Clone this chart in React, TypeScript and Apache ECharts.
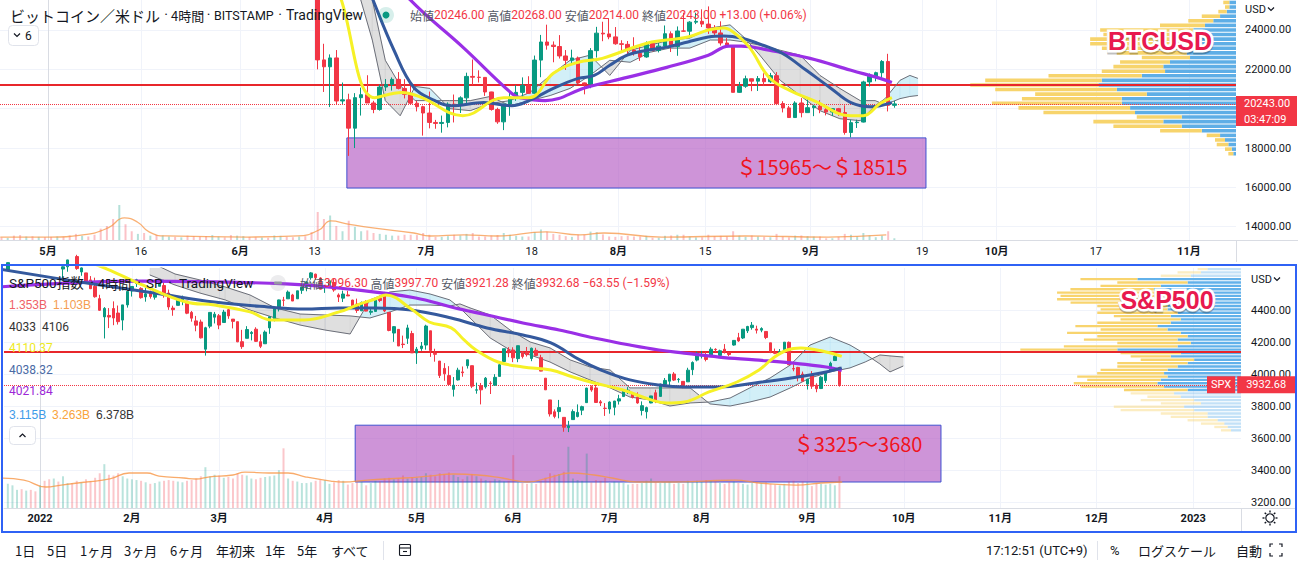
import React, { useEffect, useRef } from 'react';
import * as echarts from 'echarts';

// ---------------- BTCUSD (x = days since 2022-05-01) ----------------
const btcFirstDay = 42; // 2022-06-12
// [open, high, low, close] per day
const btcOHLC: number[][] = [
  [28400,28550,26560,26580],[26580,26880,22000,22480],[22480,23300,20850,22130],[22130,22760,20080,22580],
  [22580,22980,20230,20390],[20390,21330,20240,20450],[20450,20760,17600,19010],[19010,20790,18000,20560],
  [20560,21070,19650,20710],[20710,21700,20350,20290],[20290,20400,19770,19960],[19960,21220,19900,21100],
  [21100,21510,20900,21230],[21230,21590,20920,21490],[21490,21860,20980,21030],[21030,21500,20520,20730],
  [20730,21180,20190,20280],[20280,20400,19860,20100],[20100,20150,18630,19780],
  [19780,20870,19000,19300],[19300,19430,18980,19250],[19250,19650,18780,19300],[19300,20320,19050,20230],
  [20230,20720,19300,20180],[20180,20630,19780,20550],[20550,21830,20260,21640],[21640,22500,21200,21600],
  [21600,21950,21330,21590],[21590,21600,20650,20850],[20850,20860,19900,19960],[19960,20050,19230,19330],
  [19330,20250,18910,20230],[20230,20870,19640,20590],[20590,21200,20400,20830],[20830,21590,20520,21190],
  [21190,21650,20780,20780],[20780,22700,20760,22470],[22470,23750,21600,23390],[23390,24270,23000,23230],
  [23230,23420,22360,23160],[23160,23740,22550,22680],[22680,22980,21970,22460],[22460,23000,22320,22580],
  [22580,22650,21260,21310],[21310,21330,20730,21250],[21250,23080,21040,22950],[22950,24160,22600,23840],
  [23840,24420,23430,23800],[23800,24600,23530,23650],[23650,24150,23250,23300],
  [23300,23480,22880,23270],[23270,23440,22670,22980],[22980,23630,22700,22820],[22820,23200,22430,22630],
  [22630,23420,22590,23310],[23310,23340,22910,22960],[22960,23340,22860,23180],[23180,24230,23150,23810],
  [23810,23930,22880,23160],[23160,24180,22690,23950],[23950,24880,23900,23940],[23940,24450,23640,24400],
  [24400,24880,24300,24440],[24440,25050,24150,24300],[24300,25200,23800,24100],[24100,24250,23700,23850],
  [23850,24440,23210,23340],[23340,23590,23140,23190],[23190,23200,20830,20830],[20830,21360,20800,21140],
  [21140,21680,21060,21520],[21520,21530,20890,21400],[21400,21660,20900,21530],[21530,21800,21150,21370],
  [21370,21820,21310,21680],[21680,21860,20180,20260],[20260,20380,19810,20040],[20040,20140,19540,19550],
  [19550,20380,19550,20290],[20290,20540,19560,19800],[19800,20470,19800,20050],
  [20050,20200,19620,20130],[20130,20430,19770,19950],[19950,20050,19660,19830],[19830,20020,19630,20000],
  [20000,20040,19640,19800],[19800,20170,18680,18790],[18790,19440,18540,19290],[19290,19440,19020,19320],
  [19320,21420,19300,21360],[21360,21790,21130,21650],[21650,21880,21390,21830],[21830,22470,21560,22400],
  [22400,22790,19860,20170],[20170,20400,20050,20243],
];
const btcVolFirstDay = -8;
const btcVolume = [
  1.5,1.2,2.5,2.8,2.0,2.2,1.8,1.6,
  1.8,2.0,1.9,2.6,3.5,2.4,2.0,3.0,6.5,
  8.0,12.0,20.0,9.0,5.0,3.5,4.0,
  2.5,2.8,2.6,2.0,1.8,1.5,2.5,
  2.2,2.0,2.3,2.8,2.0,1.5,2.8,2.5,
  2.2,1.8,1.6,1.4,1.3,2.6,2.4,1.9,1.6,2.0,2.2,
  4.5,16.0,12.0,14.0,8.0,5.0,11.0,
  7.5,5.0,5.5,4.0,3.5,3.0,2.5,
  2.5,3.0,3.0,2.8,4.0,3.0,
  1.8,1.8,2.2,3.0,2.6,3.5,4.0,
  2.0,2.0,2.6,2.8,4.0,3.0,2.4,
  2.0,2.0,4.5,6.0,4.8,3.5,3.0,
  2.2,1.8,3.0,3.0,4.8,4.5,3.2,2.0,1.8,
  2.2,2.4,2.0,2.0,2.4,1.3,1.3,
  2.4,2.6,3.0,3.0,2.0,1.5,1.6,
  3.0,2.2,2.4,2.0,5.0,2.5,1.8,
  2.6,2.0,1.8,1.6,3.5,2.0,1.5,2.5,2.6,2.2,
  2.0,2.0,1.0,1.0,1.8,3.5,3.0,
  2.0,4.0,2.6,1.6,2.5,5.0,1.0,
];
const btcEarlyDir = 'duddudud' + 'duddduddd' + 'dduddud' + 'uduudud' + 'ddduuddu' + 'udduduuddud';
const btcVolMA = [[-7.7,1.7],[0.3,1.7],[5.6,2.9],[9.7,6.9],[12.3,12.6],[14.4,10.3],[16.3,4.6],[19,2.3],[32.3,1.7],[40.3,2.3],[43.7,5.7],[45.6,10.9],[48.4,9.1],[52.4,6.9],[59,4],[61.6,2.3],[67.1,2.9],[72.4,2.3],[80.3,4.6],[85.8,2.9],[89.7,4],[99,1.7],[112.4,2.3],[125.8,1.7],[135.2,2.9]];
const btcMaYellow = [[46,27000],[47.3,25540],[52.7,20560],[57.1,20820],[60.3,20560],[66.9,19640],[73.5,20560],[77.6,20560],[81.5,21800],[85.5,22360],[89.4,22560],[96.6,23330],[103.2,23640],[106.5,24000],[109,24100],[110.5,23900],[113.1,23130],[116.3,21590],[119.7,20920],[123.5,20410],[129.5,19640],[131.5,19640],[134.2,20260],[136.1,20560]];
const btcMaBlue = [[50,27500],[52.4,25540],[55.8,22970],[59,21080],[62.4,20410],[65,20150],[70.3,20310],[74.8,20150],[77.6,20410],[81.5,21030],[85.5,21540],[88.1,21690],[90.6,22210],[93.4,22720],[96.6,22970],[99.8,23130],[103.2,23390],[106.5,23640],[109,23690],[111.8,23590],[114.4,23330],[118.4,22820],[122.3,21950],[126.3,21030],[129.5,20310],[132.7,20100],[136.1,20310]];
const btcMaPurple = [[55,27000],[58.4,25540],[66.9,23130],[74.8,20770],[76.1,20560],[80.2,20410],[86.8,21080],[93.4,21590],[99.8,22100],[106.5,22720],[109.8,23180],[111.8,23180],[116.3,22970],[122.9,22560],[129.5,21950],[134.2,21540],[136.1,21330]];
const btcCloudX = [49.5,52.3,54.4,56.8,59.2,61.6,64.8,68.1,71.3,74.5,77.7,81.0,84.2,87.4,90.6,93.9,97.1,100.3,103.5,106.8,110.0,112.4,114.8,118.1,121.3,124.5,127.7,131.0,133.4,135.0,137.4,139.0,140.3];
const btcSpanA = [26560,23490,20410,19640,21130,21030,20000,19900,20260,20410,20820,21690,22460,22720,21690,22970,23230,23490,23590,24100,24260,23590,22720,21440,20670,19900,19490,19390,20150,20510,21440,21690,21540];
const btcSpanB = [28620,25540,22460,21180,20410,20410,20410,20410,20620,20150,20410,20670,21030,21690,22460,22360,22870,23080,23080,23490,23490,23390,23230,22970,22720,21690,21030,20410,20410,20200,20510,20620,20670];
const btcProfPrice = [25400,25167,24934,24701,24468,24235,24002,23769,23536,23303,23070,22837,22604,22371,22138,21905,21672,21439,21206,20973,20740,20507,20274,20041,19808,19575,19342,19109,18876,18643,18410,18177,17944,17711];
const btcProfUp = [0.54,0.54,0.75,1.29,1.84,2.51,3.45,3.45,3.45,3.72,3.45,3.99,3.72,5.34,5.88,5.74,7.62,10.86,11.13,9.64,7.22,9.24,9.24,8.57,8.17,4.39,5.88,4.39,2.77,1.29,0.89,0.62,0.35,0.22];
const btcProfDown = [0.49,0.35,0.68,1.48,2.02,3.64,7.54,7.28,8.35,8.08,7.40,5.66,3.90,4.04,4.04,5.12,7.55,9.43,10.37,9.84,9.03,8.08,10.51,9.03,7.41,3.64,5.66,5.53,3.37,1.08,0.81,0.94,0.54,0.40];
const btcProfBin = 233;
const btcLevel = 21200;
const btcLast = 20243;
const btcCountdown = '03:47:09';
const btcZone = { from: 48.2, to: 141.6, low: 15965, high: 18515 };
const btcTickDays = [0, 15, 31, 43, 61, 78, 92, 106, 123, 141, 153, 169, 184];
const btcTickLabels = ['5月', '16', '6月', '13', '7月', '18', '8月', '15', '9月', '19', '10月', '17', '11月'];
const btcGridTicks = [14000, 16000, 18000, 20000, 22000, 24000];
// 20000.00 is hidden behind the last-price tag in the reference
const btcPriceLabels = [14000, 16000, 18000, 22000, 24000];

// ---------------- S&P500 (x = trading-day index, 2022-01-03 = 0) ----------------
const spFirstIdx = -7; // 2021-12-22
const spOHLC: number[][] = [
  [4650,4697,4645,4696],[4703,4740,4703,4725],[4733,4791,4733,4791],[4795,4807,4780,4786],[4788,4805,4778,4793],[4795,4808,4775,4778],[4776,4787,4765,4766],
  [4778,4797,4758,4797],[4804,4819,4774,4794],[4788,4798,4699,4701],[4693,4725,4671,4696],[4698,4707,4663,4677],[4656,4673,4582,4670],[4670,4714,4639,4713],
  [4728,4749,4703,4726],[4734,4745,4651,4659],[4638,4666,4614,4663],[4632,4632,4568,4577],[4588,4612,4531,4533],[4548,4602,4477,4483],[4471,4495,4395,4398],
  [4357,4418,4222,4410],[4366,4412,4287,4356],[4409,4454,4305,4350],[4381,4428,4309,4327],[4337,4432,4273,4432],[4432,4516,4415,4516],
  [4519,4550,4484,4547],[4566,4595,4544,4589],[4535,4542,4471,4477],[4482,4540,4452,4501],[4505,4521,4471,4484],[4480,4531,4465,4522],[4548,4590,4548,4587],
  [4553,4589,4477,4504],[4506,4527,4401,4419],[4412,4427,4364,4402],[4429,4472,4429,4471],[4456,4490,4430,4475],[4456,4456,4374,4380],[4385,4394,4327,4349],
  [4332,4363,4267,4305],[4325,4340,4222,4226],[4155,4295,4115,4289],[4299,4385,4286,4385],[4355,4388,4316,4374],
  [4364,4375,4280,4306],[4322,4401,4322,4387],[4402,4416,4345,4363],[4343,4343,4285,4329],[4327,4327,4199,4201],[4202,4276,4157,4171],[4223,4299,4223,4278],
  [4253,4268,4210,4260],[4280,4292,4200,4204],[4202,4247,4162,4173],[4189,4272,4188,4262],[4288,4358,4251,4358],[4345,4412,4329,4412],[4407,4465,4391,4463],
  [4462,4482,4424,4461],[4470,4522,4470,4512],[4494,4501,4456,4456],[4470,4520,4469,4520],[4523,4546,4501,4543],[4541,4576,4517,4576],[4602,4637,4589,4632],
  [4624,4627,4588,4602],[4600,4604,4530,4530],
  [4540,4548,4507,4546],[4547,4583,4539,4583],[4572,4593,4514,4525],[4494,4504,4450,4481],[4474,4521,4450,4500],[4494,4520,4487,4488],[4462,4464,4408,4413],
  [4437,4471,4382,4397],[4395,4453,4393,4447],[4449,4461,4392,4393],[4386,4411,4370,4392],[4391,4471,4390,4462],[4473,4489,4449,4459],[4490,4513,4386,4394],
  [4385,4386,4267,4272],[4256,4300,4201,4296],[4279,4280,4175,4175],[4187,4240,4162,4184],[4223,4308,4188,4288],[4253,4270,4132,4132],
  [4131,4169,4063,4155],[4159,4200,4145,4175],[4181,4308,4152,4300],[4270,4270,4107,4147],[4129,4158,4077,4123],[4081,4081,3975,3991],[4035,4068,3958,4001],
  [3990,4049,3928,3935],[3904,3981,3859,3930],[3963,4039,3959,4024],[4013,4047,3983,4008],[4052,4089,4034,4089],[4052,4052,3912,3924],[3899,3946,3877,3901],
  [3927,3944,3810,3901],[3920,3981,3909,3974],[3942,3955,3875,3941],[3930,3999,3925,3979],[3985,4075,3984,4058],[4078,4158,4078,4158],[4152,4168,4105,4132],
  [4150,4167,4074,4101],[4096,4177,4074,4177],[4138,4143,4097,4109],[4135,4169,4109,4121],[4097,4165,4080,4161],[4148,4164,4111,4116],[4102,4120,4017,4018],
  [3974,3974,3900,3901],[3838,3838,3734,3750],[3764,3779,3723,3735],[3765,3838,3723,3790],[3729,3729,3639,3667],[3665,3707,3637,3675],[3715,3779,3715,3765],
  [3734,3810,3729,3760],[3774,3802,3743,3796],[3821,3914,3821,3912],[3921,3928,3889,3900],[3913,3946,3820,3822],[3826,3837,3800,3819],[3786,3818,3738,3785],
  [3781,3829,3752,3825],[3792,3832,3742,3831],[3831,3870,3809,3845],[3859,3906,3859,3903],[3889,3918,3875,3899],[3880,3880,3847,3854],[3855,3885,3814,3819],
  [3772,3829,3741,3802],[3764,3796,3722,3790],[3819,3863,3817,3863],[3883,3902,3818,3831],[3860,3939,3860,3937],[3935,3975,3924,3960],[3955,3999,3927,3999],
  [4000,4012,3956,3962],[3965,3975,3946,3967],[3954,3954,3911,3921],[3951,4039,3951,4024],[4027,4079,3993,4072],[4087,4140,4079,4130],
  [4112,4144,4097,4119],[4105,4140,4079,4091],[4108,4167,4108,4155],[4154,4161,4136,4152],[4116,4152,4107,4145],[4155,4187,4128,4140],[4133,4137,4112,4122],
  [4181,4211,4177,4210],[4227,4257,4201,4207],[4225,4280,4219,4280],[4270,4301,4256,4297],[4290,4325,4277,4305],[4281,4302,4253,4274],[4274,4292,4261,4284],
  [4266,4266,4218,4228],[4195,4195,4130,4138],[4134,4159,4124,4129],[4127,4156,4120,4141],[4153,4200,4147,4199],[4198,4203,4057,4058],[4034,4062,4017,4031],
  [4041,4045,3954,3986],[4000,4015,3954,3955],
  [3937,3970,3903,3967],[3994,4018,3907,3924],[3930,3942,3886,3908],[3909,3987,3906,3980],[3959,4010,3944,4006],[4022,4077,4022,4067],[4084,4120,4084,4110],
  [4041,4045,3921,3933],
];
const spVolume = [
  3.2,3.0,2.4,2.5,2.3,2.4,2.2,
  3.0,3.6,3.8,3.9,3.5,4.2,3.3,3.3,3.6,3.4,3.8,3.6,4.0,4.6,5.8,4.4,4.3,4.6,4.2,3.9,
  3.8,3.7,3.6,3.4,3.2,3.3,3.5,3.6,3.7,3.6,3.5,3.4,3.6,3.7,3.9,4.2,5.4,4.2,4.4,
  4.3,4.0,4.1,3.9,4.6,4.4,4.3,3.9,3.8,4.0,4.1,4.2,4.3,5.0,7.9,3.9,3.6,3.5,3.3,3.3,3.4,3.6,3.7,
  3.7,3.2,3.4,3.7,3.6,3.1,3.3,3.4,3.5,3.0,3.3,3.6,3.5,3.9,4.0,3.8,3.9,4.3,3.9,4.1,
  4.0,4.1,4.6,4.4,4.2,4.6,4.5,4.7,4.4,4.1,3.8,4.2,4.5,4.2,3.9,3.7,3.6,3.8,3.7,3.5,3.6,
  7.0,3.4,3.3,3.2,3.3,3.2,3.6,4.0,4.6,4.4,4.5,4.8,8.1,3.9,3.7,3.6,7.2,3.4,3.7,3.6,4.0,
  3.3,3.5,3.4,3.3,3.1,3.2,3.2,3.3,3.6,3.9,3.4,3.3,3.4,3.5,3.2,3.3,3.2,3.6,3.4,3.6,
  3.5,3.7,3.6,3.5,3.3,3.2,3.4,3.5,3.3,3.2,3.1,3.3,3.4,3.3,3.4,3.2,3.1,3.0,3.2,3.5,3.6,3.3,3.5,
  3.4,2.9,3.3,3.2,3.1,3.2,3.0,4.2,
];
const spVolMA = [[-8.7,3.97],[-3.5,3.7],[1.3,2.78],[4.6,3.04],[10,3.44],[15.2,3.84],[19.4,4.63],[23.3,4.63],[25.9,4.23],[31.3,3.97],[34,3.84],[36.6,4.1],[42,4.37],[44.6,4.76],[49.8,4.63],[54,4.63],[57.9,4.1],[63.3,3.57],[66,3.44],[71.2,3.7],[79.2,3.97],[84.7,4.23],[89.9,4.5],[95.3,4.37],[100.6,3.97],[106,3.44],[111.2,4.1],[115.4,4.63],[120.6,4.37],[124.5,3.97],[130,3.44],[138,3.44],[144.5,3.57],[151.3,3.7],[156.5,3.31],[164.6,3.04],[170,3.31],[174.6,3.44]];
const spMaYellow = [[5,4760],[14.6,4656],[22,4560],[31.8,4450],[37.9,4431],[45.7,4388],[50.3,4338],[57.5,4338],[65.1,4388],[69,4431],[72.9,4469],[75.3,4494],[80.8,4406],[84.7,4325],[89.5,4288],[92.3,4213],[94.9,4150],[99.7,4075],[105.1,4044],[111.2,4025],[116,3981],[120.6,3944],[126.9,3900],[133,3838],[136.3,3819],[140.2,3825],[145.6,3888],[151.7,3950],[156.5,4025],[159.6,4100],[162.6,4150],[165.6,4163],[171.1,4138],[174.5,4110]];
const spMaBlue = [[-9,4656],[8.7,4575],[26.3,4500],[37.9,4450],[49.6,4419],[57.5,4406],[65.1,4413],[72.9,4413],[80.8,4400],[89.5,4350],[97.3,4288],[105.1,4244],[111.2,4194],[117.5,4088],[122.1,4025],[128.4,3963],[134.7,3931],[140.2,3919],[147.8,3919],[155.6,3944],[163.5,3975],[171.1,4013],[174.5,4038]];
const spMaPurple = [[-9,4544],[22.4,4581],[53.5,4563],[69,4525],[81.8,4475],[89.5,4419],[97.3,4369],[105.1,4319],[113,4275],[120.6,4225],[128.4,4181],[134.7,4150],[140.2,4131],[147.8,4106],[155.6,4088],[163.5,4069],[171.1,4044],[174.5,4022]];
const spCloudX = [23.9,29.4,34.8,40.3,45.7,51.2,56.6,62.0,67.5,71.8,76.2,80.5,84.9,89.2,91.4,93.6,98.0,102.3,106.7,111.0,115.4,119.7,124.1,128.4,132.8,137.1,141.5,145.8,150.2,154.5,158.9,163.3,167.6,172.0,176.3,179.6,182.8,185.0,187.9];
const spSpanA = [4619,4556,4506,4463,4400,4350,4306,4275,4250,4463,4513,4525,4500,4463,4413,4350,4225,4150,4119,4075,4013,3963,3913,3856,3838,3800,3819,3825,3850,3913,3975,4056,4181,4231,4181,4125,4063,4013,4050];
const spSpanB = [4700,4625,4588,4544,4494,4413,4375,4369,4363,4350,4388,4431,4431,4425,4438,4413,4369,4275,4200,4163,4088,4044,4025,3913,3913,3913,3913,3813,3800,3825,3856,3913,3975,4013,4038,4075,4119,4113,4106];
const spProfPrice = [4656,4635,4614,4593,4572,4551,4530,4509,4488,4467,4446,4425,4404,4383,4362,4341,4320,4299,4278,4257,4236,4215,4194,4173,4152,4131,4110,4089,4068,4047,4026,4005,3984,3963,3942,3921,3900,3879,3858,3837,3816,3795,3774,3753,3732,3711,3690,3669,3648];
const spProfUp = [2.70,3.24,4.06,8.38,4.32,6.49,7.03,6.22,5.94,6.22,5.94,5.94,5.94,5.13,5.68,4.87,5.68,6.76,5.94,4.87,4.32,5.13,4.06,5.13,10.0,4.87,5.68,3.79,4.32,5.13,5.94,6.22,5.94,6.49,6.76,6.22,4.32,5.41,4.87,3.79,3.24,4.60,3.79,2.70,2.70,1.89,1.35,1.08,0.81];
const spProfDown = [0.81,1.89,2.43,4.60,5.68,4.87,6.76,8.65,8.65,8.65,7.84,5.68,5.41,6.49,4.60,4.87,5.94,6.63,5.41,9.19,7.30,7.57,5.94,9.19,7.84,4.87,3.24,4.32,5.68,4.87,5.41,5.41,7.30,5.94,6.76,6.76,5.14,3.51,2.70,4.32,3.24,5.68,5.94,3.79,2.98,2.43,1.89,1.08,0.81];
const spProfBin = 21;
const spValueArea = [3890, 4600];
const spLevel = 4140;
const spLast = 3932.68;
const spZone = { from: 68.6, to: 196.1, low: 3325, high: 3680 };
const spTickDays = [0, 20, 39, 62, 82, 103, 124, 144, 167, 188, 209, 230, 251];
const spTickLabels = ['2022', '2月', '3月', '4月', '5月', '6月', '7月', '8月', '9月', '10月', '11月', '12月', '2023'];
const spPriceTicks = [3200, 3400, 3600, 3800, 4000, 4200, 4400];

// ---------------- styling ----------------
const FONT = "Roboto, 'Noto Sans CJK JP', 'Noto Sans', sans-serif";
const CJK = "'Noto Sans CJK JP', Roboto, sans-serif";
const TEXT = '#131722';
const UP = '#089981';
const DOWN = '#f23645';
const GRID_LINE = '#f0f3fa';
const AXIS_LINE = '#d9dce3';

function tickFormatter(ticks: number[], labels: string[]) {
  return (v: number) => {
    for (let k = 0; k < ticks.length; k++) {
      if (Math.abs(ticks[k] - v) < 0.01) {
        const s = labels[k];
        return /月$|^20\d\d$/.test(s) ? '{b|' + s + '}' : s;
      }
    }
    return '';
  };
}

function cloudSeries(idx: number, xs: number[], a: number[], b: number[]) {
  const data: number[][] = [];
  for (let k = 0; k < xs.length - 1; k++) data.push([xs[k], a[k], b[k], xs[k + 1], a[k + 1], b[k + 1]]);
  const upFill = 'rgba(156,220,240,0.45)';
  const dnFill = 'rgba(150,150,150,0.30)';
  return {
    type: 'custom', xAxisIndex: idx, yAxisIndex: idx, clip: true, silent: true, z: 4,
    data, encode: { x: [0, 3], y: [1, 2, 4, 5] },
    renderItem: (params: any, api: any) => {
      const x0 = api.value(0), a0 = api.value(1), b0 = api.value(2);
      const x1 = api.value(3), a1 = api.value(4), b1 = api.value(5);
      const d0 = a0 - b0, d1 = a1 - b1;
      const c = (x: number, y: number) => api.coord([x, y]);
      if (d0 * d1 < 0) {
        const t = d0 / (d0 - d1);
        const xc = x0 + t * (x1 - x0), yc = a0 + t * (a1 - a0);
        return {
          type: 'group', children: [
            { type: 'polygon', shape: { points: [c(x0, a0), c(xc, yc), c(x0, b0)] }, style: { fill: d0 > 0 ? upFill : dnFill } },
            { type: 'polygon', shape: { points: [c(xc, yc), c(x1, a1), c(x1, b1)] }, style: { fill: d1 > 0 ? upFill : dnFill } },
          ],
        };
      }
      const f = d0 + d1 >= 0 ? upFill : dnFill;
      return { type: 'polygon', shape: { points: [c(x0, a0), c(x1, a1), c(x1, b1), c(x0, b0)] }, style: { fill: f, stroke: f, lineWidth: 0.3 } };
    },
  };
}

function profileSeries(idx: number, prices: number[], up: number[], dn: number[], bin: number, dark: (p: number) => boolean, colors: string[]) {
  return {
    type: 'custom', xAxisIndex: idx, yAxisIndex: idx, clip: true, silent: true, z: 1,
    data: prices.map((p, k) => [p, up[k], dn[k]]),
    encode: { x: [1, 2], y: 0 },
    renderItem: (params: any, api: any) => {
      const p = api.value(0), u = api.value(1), d = api.value(2);
      const h = Math.abs(api.size([0, bin])[1]);
      const r = api.coord([0, p]), mu = api.coord([u, p]), md = api.coord([u + d, p]);
      const y = r[1] - h / 2 + 0.5;
      const hh = Math.max(h - 1, 1);
      const isDark = dark(p);
      return {
        type: 'group', children: [
          { type: 'rect', shape: { x: mu[0], y, width: r[0] - mu[0], height: hh }, style: { fill: isDark ? colors[0] : colors[2] } },
          { type: 'rect', shape: { x: md[0], y, width: mu[0] - md[0], height: hh }, style: { fill: isDark ? colors[1] : colors[3] } },
        ],
      };
    },
  };
}

function lineSeries(idx: number, data: number[][], color: string, width: number, z = 9, smooth: number | boolean = 0.4) {
  return { type: 'line', xAxisIndex: idx, yAxisIndex: idx, data, symbol: 'none', smooth, silent: true, z, lineStyle: { color, width }, clip: true };
}

function T(x: number, y: number, text: string, o: any = {}) {
  return {
    type: 'text', x, y, silent: true, z: 100,
    style: {
      text, fill: o.fill || TEXT, fontSize: o.size || 12, fontFamily: o.family || FONT,
      fontWeight: o.weight || 'normal', textAlign: o.align || 'left', textVerticalAlign: 'middle',
      ...(o.extra || {}),
    },
  };
}

function chevron(x: number, y: number, upward = false) {
  const pts = upward ? [[x - 3, y + 1.5], [x, y - 1.5], [x + 3, y + 1.5]] : [[x - 3, y - 1.5], [x, y + 1.5], [x + 3, y - 1.5]];
  return { type: 'polyline', silent: true, z: 100, shape: { points: pts }, style: { stroke: TEXT, lineWidth: 1.2, fill: 'none' } };
}

function bigLabel(x: number, y: number, text: string) {
  const base = { fontSize: 25, fontWeight: 'bold', fontFamily: "'Liberation Sans', Arial, sans-serif", textAlign: 'center', textVerticalAlign: 'middle', text };
  return [
    { type: 'text', x, y: y + 1.5, silent: true, z: 101, style: { ...base, fill: 'rgba(0,0,0,0.25)', stroke: 'rgba(0,0,0,0.25)', lineWidth: 5 } },
    { type: 'text', x, y, silent: true, z: 102, style: { ...base, fill: '#ffffff', stroke: '#ffffff', lineWidth: 5 } },
    { type: 'text', x, y, silent: true, z: 103, style: { ...base, fill: '#e8194f' } },
  ];
}

function buildOption(): any {
  const btcCandles = btcOHLC.map((r, k) => [btcFirstDay + k + 0.5, r[0], r[3], r[2], r[1]]);
  const btcVolBars = btcVolume.map((v, k) => {
    const day = btcVolFirstDay + k;
    const ci = day - btcFirstDay;
    const up = ci >= 0 ? btcOHLC[ci][3] >= btcOHLC[ci][0] : btcEarlyDir[k] === 'u';
    return { value: [day + 0.5, v], itemStyle: { color: up ? 'rgba(8,153,129,0.30)' : 'rgba(242,54,69,0.30)' } };
  });
  const spCandles = spOHLC.map((r, k) => [spFirstIdx + k, r[0], r[3], r[2], r[1]]);
  const spVolBars = spVolume.map((v, k) => {
    const r = spOHLC[k];
    return { value: [spFirstIdx + k, v], itemStyle: { color: r[3] >= r[0] ? 'rgba(8,153,129,0.28)' : 'rgba(242,54,69,0.28)' } };
  });

  const xBase = (min: number, max: number, grid: number) => ({ type: 'value', gridIndex: grid, min, max, show: false, splitLine: { show: false } });
  const yHidden = (min: number, max: number, grid: number) => ({ type: 'value', gridIndex: grid, min, max, show: false, splitLine: { show: false } });

  const candleStyle = { color: UP, color0: DOWN, borderColor: UP, borderColor0: DOWN, borderWidth: 1 };

  const zoneSeries = (idx: number, zone: any, text: string, offsetY: number) => ({
    type: 'line', xAxisIndex: idx, yAxisIndex: idx, data: [], z: 3, silent: true,
    markArea: {
      silent: true,
      itemStyle: { color: 'rgba(181,92,196,0.66)', borderColor: '#3f51d0', borderWidth: 1 },
      label: { show: true, position: 'insideRight', distance: 19, offset: [0, offsetY], color: '#f0141e', fontSize: 20, fontFamily: CJK, formatter: text },
      data: [[{ xAxis: zone.from, yAxis: zone.high }, { xAxis: zone.to, yAxis: zone.low }]],
    },
  });

  const series: any[] = [
    // ---- BTC ----
    profileSeries(2, btcProfPrice, btcProfUp, btcProfDown, btcProfBin, () => true, ['#5eaee6', '#f7d46c', '#5eaee6', '#f7d46c']),
    { type: 'bar', xAxisIndex: 1, yAxisIndex: 1, data: btcVolBars, barWidth: 2, silent: true, z: 1 },
    lineSeries(1, btcVolMA, 'rgba(247,150,70,0.75)', 1.3, 2, 0.5),
    zoneSeries(0, btcZone, '＄15965～＄18515', 4),
    cloudSeries(0, btcCloudX, btcSpanA, btcSpanB),
    lineSeries(0, btcCloudX.map((x, k) => [x, btcSpanA[k]]), '#6b6e78', 1, 5, false),
    lineSeries(0, btcCloudX.map((x, k) => [x, btcSpanB[k]]), '#6b6e78', 1, 5, false),
    {
      type: 'candlestick', xAxisIndex: 0, yAxisIndex: 0, data: btcCandles, encode: { x: 0, y: [1, 2, 3, 4] },
      barWidth: 4, itemStyle: candleStyle, z: 7, silent: true,
      markLine: {
        silent: true, symbol: 'none', animation: false,
        data: [
          { yAxis: btcLevel, lineStyle: { color: '#e8262b', width: 2, type: 'solid' }, label: { show: false } },
          {
            yAxis: btcLast, lineStyle: { color: DOWN, width: 1, type: 'dotted' },
            label: {
              show: true, position: 'end', distance: 0,
              formatter: (p: any) => Number(p.value).toFixed(2),
              backgroundColor: DOWN, color: '#fff', fontSize: 11, padding: [3, 8, 2, 8], width: 45, fontFamily: FONT,
            },
          },
        ],
      },
    },
    lineSeries(0, btcMaPurple, '#9a2fe6', 3.2),
    lineSeries(0, btcMaBlue, '#34599d', 3),
    lineSeries(0, btcMaYellow, '#f6f126', 3),

    // ---- S&P ----
    profileSeries(5, spProfPrice, spProfUp, spProfDown, spProfBin, (p) => p >= spValueArea[0] && p <= spValueArea[1],
      ['#62b1ea', '#f8d46e', 'rgba(98,177,234,0.38)', 'rgba(248,212,110,0.42)']),
    { type: 'bar', xAxisIndex: 4, yAxisIndex: 4, data: spVolBars, barWidth: 2, silent: true, z: 1 },
    lineSeries(4, spVolMA, 'rgba(247,150,70,0.8)', 1.3, 2, 0.5),
    zoneSeries(3, spZone, '＄3325～3680', -10),
    cloudSeries(3, spCloudX, spSpanA, spSpanB),
    lineSeries(3, spCloudX.map((x, k) => [x, spSpanA[k]]), '#6b6e78', 1, 5, false),
    lineSeries(3, spCloudX.map((x, k) => [x, spSpanB[k]]), '#6b6e78', 1, 5, false),
    {
      type: 'candlestick', xAxisIndex: 3, yAxisIndex: 3, data: spCandles, encode: { x: 0, y: [1, 2, 3, 4] },
      barWidth: 3, itemStyle: candleStyle, z: 7, silent: true,
      markLine: {
        silent: true, symbol: 'none', animation: false,
        data: [
          { yAxis: spLevel, lineStyle: { color: '#e8262b', width: 2, type: 'solid' }, label: { show: false } },
          {
            yAxis: spLast, lineStyle: { color: DOWN, width: 1, type: 'dotted' },
            label: {
              show: true, position: 'end', distance: 0, offset: [-34, 0], formatter: '{s|SPX}{g|}{p|3932.68}',
              rich: {
                s: { backgroundColor: DOWN, color: '#fff', fontSize: 11, padding: [3, 4], fontFamily: FONT },
                g: { width: 2, height: 10 },
                p: { backgroundColor: DOWN, color: '#fff', fontSize: 11, padding: [3, 9], fontFamily: FONT },
              },
            },
          },
        ],
      },
    },
    lineSeries(3, spMaPurple, '#9a2fe6', 3.2),
    lineSeries(3, spMaBlue, '#34599d', 3),
    lineSeries(3, spMaYellow, '#f6f126', 3),
  ];

  const ohlcRich = {
    l: { fill: '#555a66', color: '#555a66', fontSize: 12, fontFamily: CJK },
    v: { fill: DOWN, color: DOWN, fontSize: 12, fontFamily: FONT },
  };

  const graphic: any[] = [
    // ---------- top pane ----------
    T(10, 15, 'ビットコイン／米ドル', { size: 15, family: CJK }),
    T(166, 15, '·', { size: 14, align: 'center' }),
    T(171, 15, '4時間', { size: 13, family: CJK }),
    T(208.5, 15, '·', { size: 14, align: 'center' }),
    T(214, 15, 'BITSTAMP', { size: 12.5 }),
    T(280, 15, '·', { size: 14, align: 'center' }),
    T(286, 15, 'TradingView', { size: 14 }),
    { type: 'circle', silent: true, z: 100, shape: { cx: 386, cy: 15, r: 8 }, style: { fill: 'rgba(8,153,129,0.16)' } },
    { type: 'circle', silent: true, z: 100, shape: { cx: 386, cy: 15, r: 3.5 }, style: { fill: UP } },
    T(410, 15, '{l|始値}{v|20246.00} {l|高値}{v|20268.00} {l|安値}{v|20214.00} {l|終値}{v|20243.00} {v|+13.00 (+0.06%)}', { extra: { rich: ohlcRich } }),
    { type: 'rect', silent: true, z: 100, shape: { x: 8.5, y: 25.5, width: 30, height: 20, r: 4 }, style: { fill: '#fff', stroke: '#e0e3eb', lineWidth: 1 } },
    chevron(17, 35),
    T(25, 35.5, '6', { size: 12 }),
    T(1245, 9, 'USD', { size: 11 }),
    chevron(1271, 9),
    { type: 'rect', silent: true, z: 99, shape: { x: 1236, y: 111, width: 61, height: 15 }, style: { fill: DOWN } },
    T(1244, 119, btcCountdown, { size: 11, fill: '#ffffff' }),
    { type: 'line', silent: true, z: 50, shape: { x1: 1236, y1: 240.5, x2: 1298, y2: 240.5 }, style: { stroke: AXIS_LINE, lineWidth: 1 } },
    { type: 'line', silent: true, z: 50, shape: { x1: 1236.5, y1: 240, x2: 1236.5, y2: 262 }, style: { stroke: AXIS_LINE, lineWidth: 1 } },
    ...bigLabel(1160, 41, 'BTCUSD'),

    // ---------- bottom pane ----------
    { type: 'rect', silent: true, z: 60, shape: { x: 2, y: 265, width: 1294, height: 267 }, style: { fill: 'none', stroke: '#2f62f5', lineWidth: 2 } },
    { type: 'line', silent: true, z: 50, shape: { x1: 1241.5, y1: 508, x2: 1241.5, y2: 531 }, style: { stroke: AXIS_LINE, lineWidth: 1 } },
    { type: 'line', silent: true, z: 50, shape: { x1: 1241, y1: 508.5, x2: 1295, y2: 508.5 }, style: { stroke: AXIS_LINE, lineWidth: 1 } },
    T(9, 283, 'S&P500指数', { size: 13.5, family: FONT }),
    T(92, 283, '·', { size: 14, align: 'center' }),
    T(98, 283, '4時間', { size: 13, family: CJK }),
    T(139, 283, '·', { size: 14, align: 'center' }),
    T(146, 283, 'SP', { size: 13.5 }),
    T(170, 283, '·', { size: 14, align: 'center' }),
    T(179, 283, 'TradingView', { size: 13.5 }),
    { type: 'circle', silent: true, z: 100, shape: { cx: 278, cy: 283, r: 8 }, style: { fill: 'rgba(149,152,161,0.18)' } },
    { type: 'rect', silent: true, z: 100, shape: { x: 274, y: 281.5, width: 8, height: 3, r: 1 }, style: { fill: '#9598a1' } },
    T(300, 283, '{l|始値}{v|3996.30} {l|高値}{v|3997.70} {l|安値}{v|3921.28} {l|終値}{v|3932.68} {v|−63.55 (−1.59%)}', { extra: { rich: ohlcRich } }),
    T(9, 305, '{r|1.353B}  {o|1.103B}', { extra: { rich: { r: { fill: '#ef5f67', color: '#ef5f67', fontSize: 12 }, o: { fill: '#f59d50', color: '#f59d50', fontSize: 12 } } } }),
    T(9, 327, '4033  4106', { fill: '#333' }),
    T(9, 348, '4110.37', { fill: '#eeea1e' }),
    T(9, 370, '4038.32', { fill: '#4a6aa5' }),
    T(9, 391, '4021.84', { fill: '#9c27d6' }),
    T(9, 415, '{b|3.115B}  {o|3.263B}  {k|6.378B}', { extra: { rich: { b: { fill: '#3d9be9', color: '#3d9be9', fontSize: 12 }, o: { fill: '#f9a33a', color: '#f9a33a', fontSize: 12 }, k: { fill: '#333', color: '#333', fontSize: 12 } } } }),
    { type: 'rect', silent: true, z: 100, shape: { x: 9.5, y: 426.5, width: 26, height: 18, r: 4 }, style: { fill: '#fff', stroke: '#e0e3eb', lineWidth: 1 } },
    chevron(22.5, 435.5, true),
    T(1251, 279, 'USD', { size: 11 }),
    chevron(1277, 279),
    ...bigLabel(1167, 300, 'S&P500'),
    { type: 'circle', silent: true, z: 100, shape: { cx: 1270, cy: 518, r: 4.2 }, style: { fill: 'none', stroke: TEXT, lineWidth: 1.2 } },
    ...[0, 45, 90, 135, 180, 225, 270, 315].map((deg) => {
      const a = (deg * Math.PI) / 180;
      return { type: 'line', silent: true, z: 100, shape: { x1: 1270 + 5.5 * Math.cos(a), y1: 518 + 5.5 * Math.sin(a), x2: 1270 + 7.5 * Math.cos(a), y2: 518 + 7.5 * Math.sin(a) }, style: { stroke: TEXT, lineWidth: 1.4 } };
    }),

    // ---------- bottom toolbar ----------
    T(15, 550, '1日', { size: 13, family: CJK }),
    T(47, 550, '5日', { size: 13, family: CJK }),
    T(80, 550, '1ヶ月', { size: 13, family: CJK }),
    T(124, 550, '3ヶ月', { size: 13, family: CJK }),
    T(170, 550, '6ヶ月', { size: 13, family: CJK }),
    T(216, 550, '年初来', { size: 13, family: CJK }),
    T(265, 550, '1年', { size: 13, family: CJK }),
    T(297, 550, '5年', { size: 13, family: CJK }),
    T(331, 550, 'すべて', { size: 13, family: CJK }),
    { type: 'line', silent: true, z: 100, shape: { x1: 383.5, y1: 541, x2: 383.5, y2: 560 }, style: { stroke: '#e0e3eb', lineWidth: 1 } },
    { type: 'rect', silent: true, z: 100, shape: { x: 399.5, y: 544.5, width: 11, height: 11, r: 1 }, style: { fill: 'none', stroke: TEXT, lineWidth: 1.1 } },
    { type: 'line', silent: true, z: 100, shape: { x1: 399.5, y1: 548, x2: 410.5, y2: 548 }, style: { stroke: TEXT, lineWidth: 1.1 } },
    { type: 'line', silent: true, z: 100, shape: { x1: 403, y1: 551.5, x2: 407, y2: 551.5 }, style: { stroke: TEXT, lineWidth: 1.1 } },
    T(986, 550, '17:12:51 (UTC+9)', { size: 13 }),
    { type: 'line', silent: true, z: 100, shape: { x1: 1097.5, y1: 541, x2: 1097.5, y2: 560 }, style: { stroke: '#e0e3eb', lineWidth: 1 } },
    T(1110, 550, '%', { size: 13 }),
    T(1138, 550, 'ログスケール', { size: 13, family: CJK }),
    T(1236, 550, '自動', { size: 13, family: CJK }),
    ...[[[1270, 547], [1270, 544], [1273, 544]], [[1279, 544], [1282, 544], [1282, 547]], [[1282, 553], [1282, 556], [1279, 556]], [[1273, 556], [1270, 556], [1270, 553]]].map((pts) => ({
      type: 'polyline', silent: true, z: 100, shape: { points: pts }, style: { stroke: TEXT, lineWidth: 1.2, fill: 'none' },
    })),
  ];

  const axisLabelBase = { color: TEXT, fontSize: 11, fontFamily: FONT };

  return {
    animation: false,
    backgroundColor: '#ffffff',
    textStyle: { fontFamily: FONT },
    grid: [
      { left: 0, right: 62, top: 0, height: 240 },
      { left: 0, right: 62, top: 170, height: 70 },
      { left: 0, right: 62, top: 0, height: 240 },
      { left: 4, right: 57, top: 268, height: 240 },
      { left: 4, right: 57, top: 440, height: 68 },
      { left: 4, right: 57, top: 268, height: 240 },
    ],
    xAxis: [
      {
        type: 'value', gridIndex: 0, min: -7.742, max: 191.6,
        axisLine: { show: true, lineStyle: { color: AXIS_LINE } },
        axisTick: { show: false, customValues: btcTickDays },
        axisLabel: { ...axisLabelBase, margin: 6, customValues: btcTickDays, formatter: tickFormatter(btcTickDays, btcTickLabels), rich: { b: { fontWeight: 'bold', fontSize: 11, color: TEXT } } },
        splitLine: { show: true, lineStyle: { color: GRID_LINE } },
      },
      xBase(-7.742, 191.6, 1),
      { type: 'value', gridIndex: 2, min: 0, max: 100, inverse: true, show: false, splitLine: { show: false } },
      {
        type: 'value', gridIndex: 3, min: -7.836, max: 261.4,
        axisLine: { show: true, lineStyle: { color: AXIS_LINE } },
        axisTick: { show: false, customValues: spTickDays },
        axisLabel: { ...axisLabelBase, margin: 5, customValues: spTickDays, formatter: tickFormatter(spTickDays, spTickLabels), rich: { b: { fontWeight: 'bold', fontSize: 11, color: TEXT } } },
        splitLine: { show: true, lineStyle: { color: GRID_LINE } },
      },
      xBase(-7.836, 261.4, 4),
      { type: 'value', gridIndex: 5, min: 0, max: 100, inverse: true, show: false, splitLine: { show: false } },
    ],
    yAxis: [
      {
        type: 'value', gridIndex: 0, position: 'right', min: 13324, max: 25525,
        axisLine: { show: true, lineStyle: { color: AXIS_LINE } },
        axisTick: { show: false, customValues: btcGridTicks },
        axisLabel: { ...axisLabelBase, margin: 9, customValues: btcPriceLabels, formatter: (v: number) => v.toFixed(2) },
        splitLine: { show: true, lineStyle: { color: GRID_LINE } },
      },
      yHidden(0, 40, 1),
      yHidden(13324, 25525, 2),
      {
        type: 'value', gridIndex: 3, position: 'right', min: 3162.5, max: 4662.5,
        axisLine: { show: true, lineStyle: { color: AXIS_LINE } },
        axisTick: { show: false, customValues: spPriceTicks },
        axisLabel: { ...axisLabelBase, margin: 10, customValues: spPriceTicks, formatter: (v: number) => v.toFixed(2) },
        splitLine: { show: true, lineStyle: { color: GRID_LINE } },
      },
      yHidden(0, 9, 4),
      yHidden(3162.5, 4662.5, 5),
    ],
    series,
    graphic,
  };
}

export default function App() {
  const ref = useRef<HTMLDivElement>(null);
  useEffect(() => {
    document.body.style.margin = '0';
    const chart = echarts.init(ref.current as HTMLDivElement, null, { renderer: 'svg' });
    chart.setOption(buildOption());
    return () => chart.dispose();
  }, []);
  return <div ref={ref} style={{ width: 1298, height: 569 }} />;
}
